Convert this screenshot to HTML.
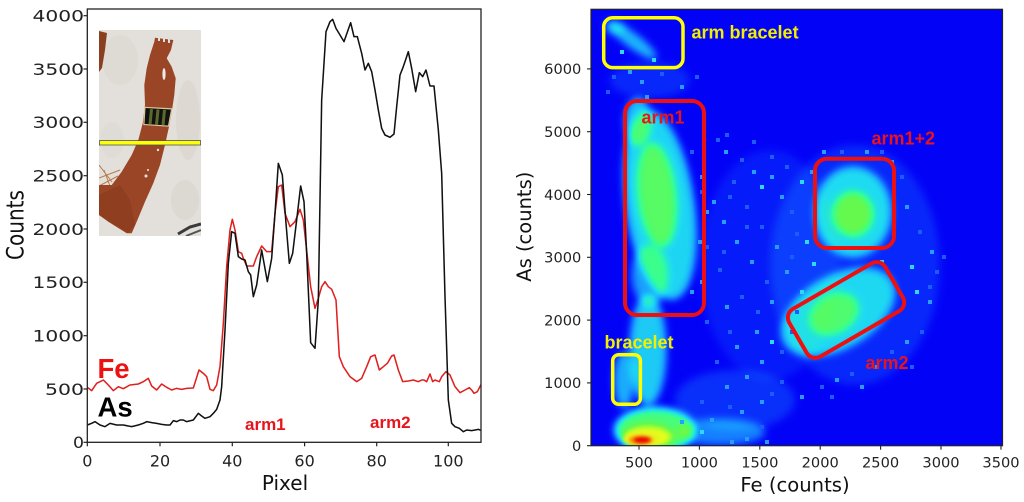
<!DOCTYPE html>
<html><head><meta charset="utf-8"><style>
html,body{margin:0;padding:0;background:#fff;}
svg{display:block;}
</style></head><body>
<svg width="1024" height="502" viewBox="0 0 1024 502" xmlns="http://www.w3.org/2000/svg">
<defs>
<filter id="jet" x="580" y="0" width="440" height="460" filterUnits="userSpaceOnUse" color-interpolation-filters="sRGB">
  <feGaussianBlur in="SourceGraphic" stdDeviation="4"/>
  <feComponentTransfer>
    <feFuncR type="table" tableValues="0.01 0.06 0.1 0.12 0.2 0.4 0.9 1 1"/>
    <feFuncG type="table" tableValues="0.01 0.32 0.62 0.86 1 0.98 1 0.5 0.05"/>
    <feFuncB type="table" tableValues="0.97 1 1 0.95 0.6 0.3 0.1 0 0"/>
    <feFuncA type="linear" slope="0" intercept="1"/>
  </feComponentTransfer>
</filter>
<filter id="sb" x="-50%" y="-50%" width="200%" height="200%"><feGaussianBlur stdDeviation="1.6"/></filter>
<clipPath id="rc"><rect x="591" y="9.3" width="411.5" height="436.4"/></clipPath>
<clipPath id="ic"><rect x="99" y="30" width="102" height="206"/></clipPath>
<clipPath id="lc"><rect x="87.3" y="9" width="393.7" height="433.3"/></clipPath>
</defs>

<!-- ================= LEFT PLOT ================= -->
<g clip-path="url(#ic)">
  <rect x="99" y="30" width="102" height="206" fill="#e3e0db"/>
  <ellipse cx="120" cy="60" rx="18" ry="25" fill="#d3cfc8" opacity="0.35"/>
  <ellipse cx="188" cy="120" rx="12" ry="40" fill="#d0ccc4" opacity="0.35"/>
  <ellipse cx="185" cy="200" rx="14" ry="20" fill="#cfcac2" opacity="0.35"/>
  <ellipse cx="112" cy="140" rx="12" ry="18" fill="#d8d4ce" opacity="0.3"/>
  <path d="M99,31 L107,33 L105,50 L102,68 L99,72 Z" fill="#8a4020"/>
  <path d="M99,178 L120,170 M99,186 L118,176 M102,192 L99,196 M99,165 L112,182 M104,170 L110,186" stroke="#b87a4a" stroke-width="1" fill="none"/>
  <polygon points="154.3,41.7 155,37.7 173.3,40 171,50 166.7,58.3 171.7,66.7 175.7,78.3 174.3,95 172.3,108.3 169,126.7 165,145 160,165 153.3,183.3 145,201.7 136.7,221.7 131.7,233.3 126.7,233.3 108.3,221.7 99,215 99,185 111.7,185 121.7,171.7 131.7,155 138.3,140 142.7,123.3 145,105 144.3,85 146.7,68.3 150,55" fill="#9a4626"/>
  <polygon points="99,195 120,185 130,200 135,225 128,233 108,221 99,215" fill="#8a3b1e" opacity="0.7"/>
  <rect x="158" y="37" width="2" height="4" fill="#e3e0db"/>
  <rect x="163" y="38" width="2" height="4" fill="#e3e0db"/>
  <rect x="168" y="39" width="2" height="4" fill="#e3e0db"/>
  <ellipse cx="164" cy="74" rx="1.6" ry="6" fill="#efece6"/>
  <circle cx="158" cy="150" r="1.2" fill="#e8e4dd"/>
  <circle cx="148" cy="170" r="1" fill="#e8e4dd"/>
  <circle cx="146" cy="176" r="1.5" fill="#e8e4dd"/>
  <polygon points="144.3,106.7 172.3,108.3 169,126.7 143.3,125" fill="#d9c79a"/>
  <polygon points="145.5,108 171,109.5 168,125.5 144.5,124" fill="#111"/>
  <polygon points="150,109 153,109.2 151.5,124.3 148.5,124.1" fill="#5a6a2a"/>
  <polygon points="156.5,109.4 159.5,109.6 158,124.7 155,124.5" fill="#5a6a2a"/>
  <polygon points="163,109.8 166,110 164.5,125.1 161.5,124.9" fill="#5a6a2a"/>
  <path d="M178,234 L190,227 L201,224" stroke="#3a3a3a" stroke-width="3" fill="none"/>
  <path d="M186,236 L201,230" stroke="#555" stroke-width="2" fill="none"/>
  <rect x="99.4" y="140.6" width="101.2" height="4.4" fill="#ffff00" stroke="#4a5560" stroke-width="0.8"/>
</g>

<g clip-path="url(#lc)">
<g transform="scale(0.333333)" fill="none" stroke-linejoin="round" stroke-width="4.6">
<polyline stroke="#e0201e" points="262,1162 275,1172 290,1150 310,1140 325,1155 340,1172 355,1160 370,1166 390,1155 415,1152 430,1145 445,1135 455,1158 470,1170 485,1152 500,1162 515,1170 530,1165 545,1168 560,1165 580,1164 597,1110 610,1120 620,1130 630,1168 640,1172 650,1155 660,1100 670,970 680,800 690,690 697,658 705,690 715,755 725,760 730,775 740,798 760,798 770,770 785,738 800,755 815,755 825,640 835,560 845,555 855,640 870,680 885,665 900,628 910,660 922,770 932,860 945,925 955,895 965,860 975,845 985,860 995,868 1008,900 1018,1070 1030,1100 1050,1130 1070,1145 1085,1135 1100,1100 1112,1070 1125,1065 1138,1110 1150,1100 1162,1090 1175,1068 1182,1065 1195,1110 1208,1145 1225,1143 1240,1140 1255,1145 1265,1140 1272,1140 1280,1145 1290,1122 1298,1145 1305,1140 1318,1145 1325,1130 1338,1115 1350,1125 1365,1160 1380,1178 1395,1170 1408,1163 1415,1170 1422,1180 1432,1175 1445,1150"/>
<polyline stroke="#111" points="262,1275 275,1270 285,1265 300,1275 315,1280 330,1270 350,1275 370,1275 395,1280 415,1275 430,1270 440,1265 455,1268 470,1270 485,1273 500,1275 510,1275 520,1262 530,1265 540,1260 550,1260 560,1265 580,1260 595,1240 605,1248 615,1255 630,1250 640,1240 650,1228 660,1200 665,1160 675,990 685,790 695,695 705,700 715,770 725,777 735,780 745,815 752,825 760,890 770,855 785,750 802,845 815,775 825,640 835,490 847,525 858,670 868,790 878,760 890,660 902,558 912,605 920,760 932,1028 945,1045 955,900 965,300 978,95 990,65 998,58 1008,85 1020,105 1032,125 1052,68 1062,110 1072,110 1085,160 1095,210 1105,190 1115,215 1125,270 1135,330 1145,385 1155,405 1170,412 1182,402 1190,320 1200,225 1208,205 1215,185 1225,155 1235,205 1247,275 1258,218 1268,230 1278,210 1290,258 1302,258 1315,390 1325,520 1335,890 1345,1200 1355,1270 1365,1280 1378,1285 1390,1295 1400,1290 1415,1292 1425,1290 1435,1288 1445,1292"/>
</g>
</g>

<rect x="87.3" y="9" width="393.7" height="433.3" fill="none" stroke="#222" stroke-width="1.3"/>
<g stroke="#222" stroke-width="1.2">
  <line x1="83.5" y1="442.3" x2="87.3" y2="442.3"/>
  <line x1="83.5" y1="389" x2="87.3" y2="389"/>
  <line x1="83.5" y1="335.7" x2="87.3" y2="335.7"/>
  <line x1="83.5" y1="282.3" x2="87.3" y2="282.3"/>
  <line x1="83.5" y1="229" x2="87.3" y2="229"/>
  <line x1="83.5" y1="175.7" x2="87.3" y2="175.7"/>
  <line x1="83.5" y1="122.3" x2="87.3" y2="122.3"/>
  <line x1="83.5" y1="69" x2="87.3" y2="69"/>
  <line x1="83.5" y1="15.7" x2="87.3" y2="15.7"/>
  <line x1="87.3" y1="442.3" x2="87.3" y2="446.3"/>
  <line x1="160" y1="442.3" x2="160" y2="446.3"/>
  <line x1="232.3" y1="442.3" x2="232.3" y2="446.3"/>
  <line x1="304.6" y1="442.3" x2="304.6" y2="446.3"/>
  <line x1="376.7" y1="442.3" x2="376.7" y2="446.3"/>
  <line x1="448.3" y1="442.3" x2="448.3" y2="446.3"/>
</g>
<g font-family="DejaVu Sans, sans-serif" font-size="16" fill="#222" text-anchor="end">
  <text x="84" y="448.1" textLength="11" lengthAdjust="spacingAndGlyphs">0</text>
  <text x="84" y="394.8" textLength="39" lengthAdjust="spacingAndGlyphs">500</text>
  <text x="84" y="341.5" textLength="51.5" lengthAdjust="spacingAndGlyphs">1000</text>
  <text x="84" y="288.1" textLength="51.5" lengthAdjust="spacingAndGlyphs">1500</text>
  <text x="84" y="234.8" textLength="51.5" lengthAdjust="spacingAndGlyphs">2000</text>
  <text x="84" y="181.5" textLength="51.5" lengthAdjust="spacingAndGlyphs">2500</text>
  <text x="84" y="128.1" textLength="51.5" lengthAdjust="spacingAndGlyphs">3000</text>
  <text x="84" y="74.8" textLength="51.5" lengthAdjust="spacingAndGlyphs">3500</text>
  <text x="84" y="21.5" textLength="51.5" lengthAdjust="spacingAndGlyphs">4000</text>
</g>
<g font-family="DejaVu Sans, sans-serif" font-size="16" fill="#222" text-anchor="middle">
  <text x="87.3" y="466.7">0</text>
  <text x="160" y="466.7">20</text>
  <text x="232.3" y="466.7">40</text>
  <text x="304.6" y="466.7">60</text>
  <text x="376.7" y="466.7">80</text>
  <text x="448.3" y="466.7">100</text>
</g>
<text x="285" y="490" font-family="DejaVu Sans, sans-serif" font-size="20" fill="#111" text-anchor="middle">Pixel</text>
<text transform="translate(23.3,225) rotate(-90)" x="0" y="0" font-family="DejaVu Sans, sans-serif" font-size="24" fill="#111" text-anchor="middle" textLength="70" lengthAdjust="spacingAndGlyphs">Counts</text>
<g font-family="Liberation Sans, Arial, sans-serif" font-weight="bold">
  <text x="97.5" y="378" font-size="27.5" fill="#ee1111">Fe</text>
  <text x="97.5" y="416.7" font-size="27.5" fill="#000">As</text>
  <text x="245" y="430" font-size="17" fill="#e8141c">arm1</text>
  <text x="370" y="428" font-size="17" fill="#e8141c">arm2</text>
</g>

<!-- ================= RIGHT PLOT ================= -->
<g clip-path="url(#rc)">
  <g filter="url(#jet)">
    <rect x="585" y="0" width="430" height="455" fill="#000"/>
    <g fill="#fff">
      <ellipse cx="770" cy="265" rx="70" ry="115" fill-opacity="0.04"/>
      <ellipse cx="855" cy="265" rx="85" ry="120" fill-opacity="0.06"/>
      <ellipse cx="650" cy="80" rx="40" ry="18" fill-opacity="0.06"/>
      <ellipse cx="735" cy="400" rx="60" ry="30" fill-opacity="0.07"/>
      <ellipse cx="632" cy="40" rx="30" ry="7" transform="rotate(37 632 40)" fill-opacity="0.3"/>
      <ellipse cx="615" cy="28" rx="10" ry="6" fill-opacity="0.2"/>
      <ellipse cx="660" cy="205" rx="34" ry="95" transform="rotate(-8 660 205)" fill-opacity="0.36"/>
      <ellipse cx="638" cy="122" rx="13" ry="24" fill-opacity="0.32"/>
      <ellipse cx="657" cy="195" rx="19" ry="52" transform="rotate(-6 657 195)" fill-opacity="0.36"/>
      <ellipse cx="650" cy="275" rx="18" ry="30" fill-opacity="0.25"/>
      <ellipse cx="648" cy="350" rx="18" ry="55" fill-opacity="0.34"/>
      <ellipse cx="624" cy="380" rx="10" ry="28" fill-opacity="0.28"/>
      <ellipse cx="655" cy="430" rx="40" ry="22" fill-opacity="0.55"/>
      <ellipse cx="648" cy="437" rx="25" ry="12" fill-opacity="0.45"/>
      <ellipse cx="720" cy="432" rx="45" ry="13" fill-opacity="0.2"/>
      <ellipse cx="853" cy="212" rx="38" ry="45" fill-opacity="0.34"/>
      <ellipse cx="853" cy="214" rx="20" ry="22" fill-opacity="0.4"/>
      <ellipse cx="838" cy="312" rx="62" ry="36" transform="rotate(-30 838 312)" fill-opacity="0.33"/>
      <ellipse cx="834" cy="314" rx="26" ry="19" transform="rotate(-30 834 314)" fill-opacity="0.32"/>
    </g>
  </g>
  <ellipse cx="641" cy="439" rx="18" ry="7" fill="#e8f020" filter="url(#sb)"/>
  <ellipse cx="641" cy="440" rx="12" ry="4.5" fill="#ff8a00" filter="url(#sb)"/>
  <ellipse cx="642" cy="440" rx="8" ry="2.8" fill="#e40000" filter="url(#sb)"/>
  <g fill="#1e5cff">
    <rect x="716" y="138" width="4" height="4"/><rect x="740" y="158" width="4" height="4"/><rect x="732" y="180" width="4" height="4"/>
    <rect x="700" y="190" width="4" height="4"/><rect x="745" y="205" width="4" height="4"/><rect x="790" y="210" width="4" height="4"/>
    <rect x="760" y="225" width="4" height="4"/><rect x="705" y="245" width="4" height="4"/><rect x="795" y="232" width="4" height="4"/>
    <rect x="718" y="268" width="4" height="4"/><rect x="765" y="280" width="4" height="4"/><rect x="740" y="295" width="4" height="4"/>
    <rect x="705" y="320" width="4" height="4"/><rect x="790" y="330" width="4" height="4"/><rect x="715" y="360" width="4" height="4"/>
    <rect x="780" y="350" width="4" height="4"/><rect x="700" y="400" width="4" height="4"/><rect x="780" y="380" width="4" height="4"/>
    <rect x="820" y="385" width="4" height="4"/><rect x="850" y="372" width="4" height="4"/><rect x="890" y="350" width="4" height="4"/>
    <rect x="920" y="330" width="4" height="4"/><rect x="935" y="270" width="4" height="4"/><rect x="918" y="230" width="4" height="4"/>
    <rect x="900" y="175" width="4" height="4"/><rect x="880" y="150" width="4" height="4"/><rect x="840" y="150" width="4" height="4"/>
    <rect x="612" y="75" width="4" height="4"/><rect x="660" y="72" width="4" height="4"/><rect x="695" y="75" width="4" height="4"/>
    <rect x="606" y="90" width="4" height="4"/><rect x="690" y="150" width="4" height="4"/><rect x="702" y="270" width="4" height="4"/>
    <rect x="760" y="425" width="4" height="4"/><rect x="942" y="255" width="4" height="4"/><rect x="928" y="285" width="4" height="4"/>
    <rect x="830" y="395" width="4" height="4"/><rect x="910" y="365" width="4" height="4"/><rect x="725" y="133" width="4" height="4"/>
    <rect x="752" y="140" width="4" height="4"/><rect x="770" y="155" width="4" height="4"/><rect x="785" y="165" width="4" height="4"/>
    <rect x="728" y="195" width="4" height="4"/><rect x="745" y="225" width="4" height="4"/><rect x="722" y="250" width="4" height="4"/>
    <rect x="790" y="255" width="4" height="4"/><rect x="756" y="310" width="4" height="4"/><rect x="728" y="330" width="4" height="4"/>
    <rect x="795" y="310" width="4" height="4"/><rect x="770" y="392" width="4" height="4"/><rect x="728" y="405" width="4" height="4"/>
  </g>
  <g fill="#2a9cff">
    <rect x="724" y="150" width="4" height="4"/><rect x="752" y="170" width="4" height="4"/><rect x="770" y="175" width="4" height="4"/>
    <rect x="712" y="200" width="4" height="4"/><rect x="780" y="195" width="4" height="4"/><rect x="722" y="220" width="4" height="4"/>
    <rect x="735" y="240" width="4" height="4"/><rect x="775" y="245" width="4" height="4"/><rect x="750" y="260" width="4" height="4"/>
    <rect x="700" y="280" width="4" height="4"/><rect x="785" y="270" width="4" height="4"/><rect x="725" y="305" width="4" height="4"/>
    <rect x="770" y="300" width="4" height="4"/><rect x="755" y="330" width="4" height="4"/><rect x="735" y="345" width="4" height="4"/>
    <rect x="760" y="360" width="4" height="4"/><rect x="745" y="375" width="4" height="4"/><rect x="725" y="385" width="4" height="4"/>
    <rect x="760" y="400" width="4" height="4"/><rect x="740" y="410" width="4" height="4"/><rect x="800" y="395" width="4" height="4"/>
    <rect x="835" y="378" width="4" height="4"/><rect x="860" y="385" width="4" height="4"/><rect x="875" y="365" width="4" height="4"/>
    <rect x="905" y="340" width="4" height="4"/><rect x="928" y="300" width="4" height="4"/><rect x="930" y="250" width="4" height="4"/>
    <rect x="905" y="205" width="4" height="4"/><rect x="890" y="160" width="4" height="4"/><rect x="865" y="150" width="4" height="4"/>
    <rect x="822" y="150" width="4" height="4"/><rect x="810" y="170" width="4" height="4"/><rect x="628" y="70" width="4" height="4"/>
    <rect x="640" y="80" width="4" height="4"/><rect x="680" y="85" width="4" height="4"/><rect x="645" y="95" width="4" height="4"/>
    <rect x="700" y="175" width="4" height="4"/><rect x="705" y="210" width="4" height="4"/><rect x="698" y="240" width="4" height="4"/>
    <rect x="690" y="290" width="4" height="4"/><rect x="680" y="420" width="4" height="4"/><rect x="745" y="437" width="4" height="4"/>
    <rect x="765" y="440" width="4" height="4"/><rect x="710" y="418" width="4" height="4"/><rect x="730" y="440" width="4" height="4"/>
  </g>
  <g fill="#30d8f0">
    <rect x="760" y="185" width="4" height="4"/><rect x="805" y="240" width="4" height="4"/><rect x="812" y="262" width="4" height="4"/>
    <rect x="800" y="290" width="4" height="4"/><rect x="910" y="265" width="4" height="4"/><rect x="915" y="290" width="4" height="4"/>
    <rect x="800" y="180" width="4" height="4"/><rect x="700" y="430" width="4" height="4"/><rect x="620" y="50" width="4" height="4"/>
    <rect x="652" y="58" width="4" height="4"/><rect x="770" y="340" width="4" height="4"/><rect x="880" y="260" width="4" height="4"/>
  </g>
</g>

<rect x="591" y="9.3" width="411.5" height="436.4" fill="none" stroke="#222" stroke-width="1.2"/>
<g stroke="#222" stroke-width="1.1">
  <line x1="587" y1="445.7" x2="591" y2="445.7"/>
  <line x1="587" y1="382.9" x2="591" y2="382.9"/>
  <line x1="587" y1="320.1" x2="591" y2="320.1"/>
  <line x1="587" y1="257.3" x2="591" y2="257.3"/>
  <line x1="587" y1="194.5" x2="591" y2="194.5"/>
  <line x1="587" y1="131.7" x2="591" y2="131.7"/>
  <line x1="587" y1="68.9" x2="591" y2="68.9"/>
  <line x1="639" y1="445.7" x2="639" y2="449.7"/>
  <line x1="699.4" y1="445.7" x2="699.4" y2="449.7"/>
  <line x1="759.8" y1="445.7" x2="759.8" y2="449.7"/>
  <line x1="820.2" y1="445.7" x2="820.2" y2="449.7"/>
  <line x1="880.6" y1="445.7" x2="880.6" y2="449.7"/>
  <line x1="941" y1="445.7" x2="941" y2="449.7"/>
  <line x1="1001" y1="445.7" x2="1001" y2="449.7"/>
</g>
<g font-family="DejaVu Sans, sans-serif" font-size="14.6" fill="#222" text-anchor="end">
  <text x="581.3" y="451">0</text>
  <text x="581.3" y="388.2">1000</text>
  <text x="581.3" y="325.4">2000</text>
  <text x="581.3" y="262.6">3000</text>
  <text x="581.3" y="199.8">4000</text>
  <text x="581.3" y="137">5000</text>
  <text x="581.3" y="74.2">6000</text>
</g>
<g font-family="DejaVu Sans, sans-serif" font-size="14.6" fill="#222" text-anchor="middle">
  <text x="639" y="467.5">500</text>
  <text x="699.4" y="467.5">1000</text>
  <text x="759.8" y="467.5">1500</text>
  <text x="820.2" y="467.5">2000</text>
  <text x="880.6" y="467.5">2500</text>
  <text x="941" y="467.5">3000</text>
  <text x="1001" y="467.5">3500</text>
</g>
<text x="795" y="491.5" font-family="DejaVu Sans, sans-serif" font-size="19.6" fill="#111" text-anchor="middle">Fe (counts)</text>
<text transform="translate(531,226.7) rotate(-90)" x="0" y="0" font-family="DejaVu Sans, sans-serif" font-size="19.5" fill="#111" text-anchor="middle">As (counts)</text>

<g fill="none">
  <rect x="603.7" y="17.7" width="79.3" height="49.9" rx="9" stroke="#ffff00" stroke-width="3.5"/>
  <rect x="612.7" y="354.7" width="27.7" height="49.6" rx="6" stroke="#ffff00" stroke-width="3.5"/>
  <rect x="625" y="101" width="79" height="214" rx="12" stroke="#ee1010" stroke-width="4"/>
  <rect x="815" y="158.7" width="79" height="89.3" rx="12" stroke="#ee1010" stroke-width="4"/>
  <rect x="-55.5" y="-27.5" width="111" height="55" rx="10" transform="translate(846,310) rotate(-30)" stroke="#ee1010" stroke-width="4"/>
</g>
<g font-family="Liberation Sans, Arial, sans-serif" font-weight="bold" font-size="18">
  <text x="691.5" y="38.3" fill="#f2f000">arm bracelet</text>
  <text x="604.5" y="348.3" fill="#f2f000">bracelet</text>
  <text x="641.5" y="123.3" fill="#e8141c">arm1</text>
  <text x="871.5" y="144.5" fill="#e8141c">arm1+2</text>
  <text x="865.5" y="369" fill="#e8141c">arm2</text>
</g>
</svg>
</body></html>
